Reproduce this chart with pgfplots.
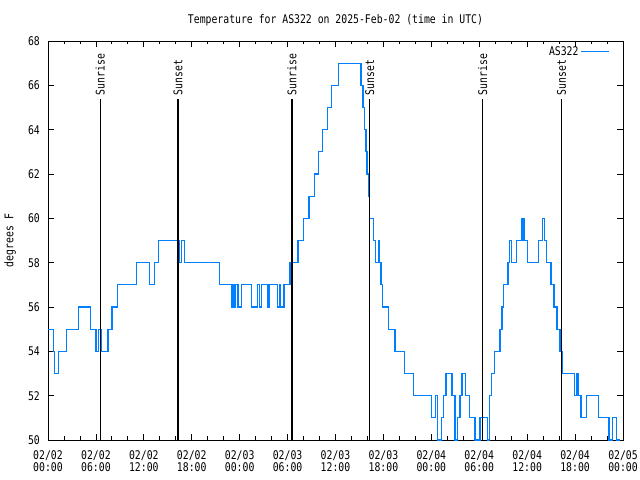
\documentclass[border=0pt]{standalone}
\usepackage{pgfplots}
\pgfplotsset{compat=1.18}
\usepackage{fontspec}
\setmainfont{DejaVu Sans Mono}[FakeStretch=0.82]
\definecolor{linecol}{RGB}{0,128,255}
\begin{document}
\fontsize{12pt}{12pt}\selectfont
\begin{tikzpicture}
\path[use as bounding box] (-48bp,-40bp) rectangle (592bp,440bp);
\begin{axis}[
  scale only axis, width=575bp, height=399bp,
  at={(0,0)}, anchor=south west,
  xmin=0, xmax=72, ymin=50, ymax=68,
  clip=false,
  axis line style={black, line width=0.9bp},
  xtick={0,6,...,72},
  xticklabels={{02/02\\00:00},{02/02\\06:00},{02/02\\12:00},{02/02\\18:00},{02/03\\00:00},{02/03\\06:00},{02/03\\12:00},{02/03\\18:00},{02/04\\00:00},{02/04\\06:00},{02/04\\12:00},{02/04\\18:00},{02/05\\00:00}},
  minor x tick num=2,
  ytick={50,52,...,68},
  /pgf/number format/assume math mode=true,
  tick align=inside,
  major tick length=6bp, minor tick length=3.5bp,
  tick style={black, line width=0.8bp},
  xticklabel style={align=center, yshift=-6bp},
  yticklabel style={xshift=-4bp},
  ylabel={degrees F},
  ylabel style={at={(axis description cs:-0.066,0.5)}, anchor=center},
  title={Temperature for AS322 on 2025-Feb-02 (time in UTC)},
  title style={at={(0.5,1)}, anchor=base, yshift=12bp},
  legend style={at={(1,1)}, anchor=north east, draw=none, fill=none, xshift=-10bp, yshift=-1bp},
  legend plot pos=right, legend cell align=right,
  legend image code/.code={\draw[linecol, line width=1.3bp] (0bp,0bp) -- (28bp,0bp);},
]
\addplot[const plot, color=linecol, line width=1.3bp, mark=none] coordinates {
(0,55) (0.7,54) (0.8,53) (1.35,54) (2.3,55) (3.8,56) (5.3,55) (6.0,54) (6.3,55) (6.7,54)
(7.5,55) (8.0,56) (8.7,57) (11.1,58) (12.7,57) (13.3,58) (13.8,59) (16.5,58) (16.7,59) (17.1,58)
(21.5,57) (23.0,56) (23.15,57) (23.35,56) (23.5,57) (23.8,56) (24.2,57) (25.5,56) (26.25,57) (26.5,56)
(26.75,57) (27.55,56) (27.7,57) (28.75,56) (29.05,57) (29.15,56) (29.45,57) (29.55,56) (29.65,57) (30.3,58)
(31.3,59) (32.0,60) (32.7,61) (33.4,62) (33.9,63) (34.4,64) (35.0,65) (35.5,66) (36.4,67) (39.2,66)
(39.45,65) (39.65,64) (39.8,63) (39.95,62) (40.1,61) (40.3,60) (40.8,59) (41.0,58) (41.35,59) (41.55,58)
(41.7,57) (41.85,56) (42.6,55) (43.45,54) (44.6,53) (45.75,52) (48.05,51) (48.55,52) (48.75,50) (49.3,51)
(49.55,52) (49.85,53) (50.6,52) (50.95,50) (51.3,51) (51.6,52) (51.85,53) (52.3,52) (52.8,51) (53.45,50)
(54.1,51) (55.0,50) (55.3,52) (55.55,53) (55.95,54) (56.6,55) (56.85,56) (57.0,57) (57.6,58) (57.8,59)
(58.0,58) (58.7,59) (59.35,60) (59.6,59) (60.0,58) (61.45,59) (61.95,60) (62.2,59) (62.45,58) (63.0,57)
(63.35,56) (63.75,55) (64.1,54) (64.45,53) (65.95,52) (66.25,53) (66.45,52) (66.75,51) (67.45,52) (68.95,51)
(70.25,50) (70.7,51) (71.15,50) (71.6,50)
};
\addlegendentry{AS322}
\addplot[black, line width=1.3bp, forget plot] coordinates {(6.54,50) (6.54,65.4)};
\addplot[black, line width=1.3bp, forget plot] coordinates {(16.29,50) (16.29,65.4)};
\addplot[black, line width=1.3bp, forget plot] coordinates {(30.54,50) (30.54,65.4)};
\addplot[black, line width=1.3bp, forget plot] coordinates {(40.29,50) (40.29,65.4)};
\addplot[black, line width=1.3bp, forget plot] coordinates {(54.42,50) (54.42,65.4)};
\addplot[black, line width=1.3bp, forget plot] coordinates {(64.3,50) (64.3,65.4)};
\node[rotate=90, anchor=west, inner sep=1bp] at (axis cs:6.54,65.5) {Sunrise};
\node[rotate=90, anchor=west, inner sep=1bp] at (axis cs:16.29,65.5) {Sunset};
\node[rotate=90, anchor=west, inner sep=1bp] at (axis cs:30.54,65.5) {Sunrise};
\node[rotate=90, anchor=west, inner sep=1bp] at (axis cs:40.29,65.5) {Sunset};
\node[rotate=90, anchor=west, inner sep=1bp] at (axis cs:54.42,65.5) {Sunrise};
\node[rotate=90, anchor=west, inner sep=1bp] at (axis cs:64.3,65.5) {Sunset};
\end{axis}
\end{tikzpicture}
\end{document}
